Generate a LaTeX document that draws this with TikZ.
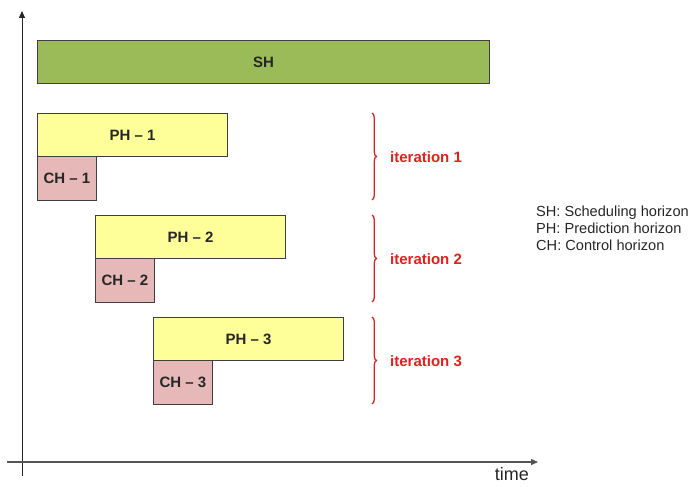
\documentclass[tikz,border=0pt]{standalone}
\usepackage{fontspec}
\setmainfont{Liberation Sans}
\usetikzlibrary{arrows.meta,decorations.pathreplacing}
\definecolor{shgreen}{HTML}{9BBB59}
\definecolor{phyellow}{HTML}{FFFF99}
\definecolor{chpink}{HTML}{E6B9B8}
\definecolor{edgegray}{HTML}{3F3F3F}
\definecolor{itred}{HTML}{E3211C}
\definecolor{axisgray}{HTML}{555555}
\tikzset{
  box/.style={draw=edgegray, line width=0.9pt, anchor=north west, inner sep=0pt,
    font=\fontsize{15}{17}\selectfont\bfseries, text=black!85},
  shbox/.style={box, fill=shgreen, minimum width=452pt, minimum height=43pt},
  phbox/.style={box, fill=phyellow, minimum width=190pt, minimum height=43pt},
  chbox/.style={box, fill=chpink, minimum width=59pt, minimum height=44pt},
  itbrace/.style={draw=itred, line width=1.3pt, decorate, decoration={brace, amplitude=4.5pt}},
  itlabel/.style={text=itred, font=\fontsize{15}{17}\selectfont\bfseries, anchor=west, inner sep=0pt},
  axis/.style={line width=1.3pt, draw=axisgray, -{Triangle[length=7pt,width=6pt]}},
  legend/.style={font=\fontsize{14.6}{17}\selectfont, text=black!85, anchor=north west, align=left, inner sep=0pt}
}
\begin{document}
\begin{tikzpicture}[x=1pt,y=-1pt]
\useasboundingbox (0,0) rectangle (691,487);
% axes
\coordinate (yb) at (22,476);
\coordinate (yt) at (22,11);
\coordinate (xl) at (7,462);
\coordinate (xr) at (538,462);
\draw[axis, line width=1pt, draw=black!85] (yb) -- (yt);
\draw[axis] (xl) -- (xr);
\node[font=\fontsize{18}{20}\selectfont, text=black!85, anchor=north east, inner sep=0pt] (time) at (529,467) {time};
% boxes
\node[shbox] (sh) at (37,40) {SH};
\node[phbox] (ph1) at (37,113) {PH – 1};
\node[chbox] (ch1) at (37,156) {CH – 1};
\node[phbox] (ph2) at (95,215) {PH – 2};
\node[chbox] (ch2) at (95,258) {CH – 2};
\node[phbox] (ph3) at (153,317) {PH – 3};
\node[chbox] (ch3) at (153,360) {CH – 3};
% braces
\coordinate (b1t) at (372,113);
\coordinate (b1b) at (372,200);
\coordinate (b2t) at (372,215);
\coordinate (b2b) at (372,302);
\coordinate (b3t) at (372,317);
\coordinate (b3b) at (372,404);
\draw[itbrace] (b1t) -- (b1b);
\draw[itbrace] (b2t) -- (b2b);
\draw[itbrace] (b3t) -- (b3b);
\node[itlabel] (it1) at (390,157) {iteration 1};
\node[itlabel] (it2) at (390,259) {iteration 2};
\node[itlabel] (it3) at (390,361) {iteration 3};
% legend
\node[legend] (leg) at (536,206) {SH: Scheduling horizon\\PH: Prediction horizon\\CH: Control horizon};
\end{tikzpicture}
\end{document}
